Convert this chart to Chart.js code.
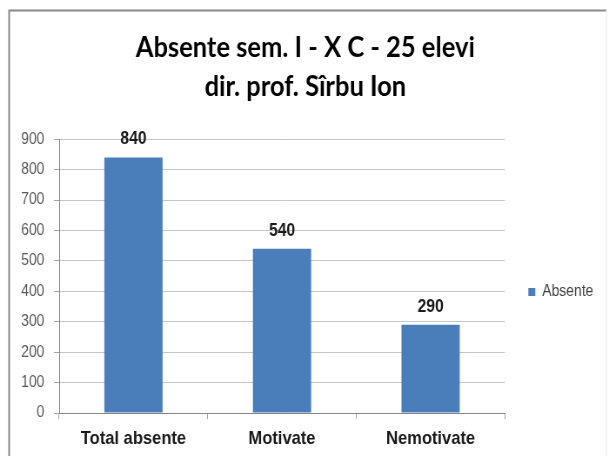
<!DOCTYPE html>
<html>
<head>
<meta charset="utf-8">
<script src="https://cdn.jsdelivr.net/npm/chart.js@4/dist/chart.umd.min.js"></script>
<style>
  html, body { margin: 0; padding: 0; background: #ffffff; }
</style>
</head>
<body>
<canvas id="c" width="700" height="456" style="display:block;width:609px;height:456px"></canvas>
<script>
// ---- data ----
const titleLines = ['Absente sem. I - X C - 25 elevi', 'dir. prof. Sîrbu Ion'];
const categories = ['Total absente', 'Motivate', 'Nemotivate'];
const seriesName = 'Absente';
const absente = [840, 540, 290];
const yMin = 0;
const yMax = 900;
const yStep = 100;

const BAR_COLOR = '#4a7ebb';
const SANS = '"Liberation Sans", Arial, sans-serif';

const framePlugin = {
  id: 'frame',
  beforeDraw(chart) {
    const ctx = chart.ctx;
    ctx.save();
    ctx.fillStyle = '#ffffff';
    ctx.fillRect(0, 0, chart.width, chart.height);
    ctx.strokeStyle = '#8a8a8a';
    ctx.lineWidth = 2;
    ctx.beginPath();
    ctx.moveTo(10.5, chart.height + 2);
    ctx.lineTo(10.5, 10.5);
    ctx.lineTo(697, 10.5);
    ctx.stroke();
    ctx.strokeStyle = '#e6e6e6';
    ctx.lineWidth = 1;
    ctx.beginPath();
    ctx.moveTo(697, 10.5);
    ctx.lineTo(697, chart.height + 2);
    ctx.stroke();
    ctx.restore();
  }
};

const valueLabels = {
  id: 'valueLabels',
  afterDatasetsDraw(chart) {
    const ctx = chart.ctx;
    const meta = chart.getDatasetMeta(0);
    const data = chart.data.datasets[0].data;
    ctx.save();
    ctx.font = 'bold 18px ' + SANS;
    ctx.fillStyle = '#1a1a1a';
    ctx.textAlign = 'center';
    ctx.textBaseline = 'alphabetic';
    meta.data.forEach((bar, i) => {
      ctx.fillText(String(data[i]), bar.x, bar.y - 13);
    });
    ctx.restore();
  }
};

new Chart(document.getElementById('c'), {
  type: 'bar',
  data: {
    labels: categories,
    datasets: [{
      label: seriesName,
      data: absente,
      backgroundColor: BAR_COLOR,
      borderWidth: 0,
      barPercentage: 0.392,
      categoryPercentage: 1.0
    }]
  },
  options: {
    responsive: false,
    devicePixelRatio: 1,
    animation: false,
    layout: { padding: { top: 10, left: 10, right: 8, bottom: 0 } },
    plugins: {
      title: {
        display: true,
        text: titleLines,
        color: '#000000',
        font: { family: 'Lato, "Open Sans", sans-serif', weight: 'bold', size: 29.3, lineHeight: 1.3 },
        padding: { top: 19, bottom: 34 }
      },
      legend: {
        display: true,
        position: 'right',
        align: 'center',
        fullSize: false,
        title: { display: true, text: ' ', font: { size: 20, lineHeight: 1.2 }, padding: 4 },
        labels: {
          color: '#404040',
          font: { family: SANS, size: 16 },
          boxWidth: 8,
          boxHeight: 8,
          padding: 27
        }
      },
      tooltip: { enabled: false }
    },
    scales: {
      x: {
        offset: true,
        grid: {
          display: true,
          offset: true,
          drawOnChartArea: false,
          drawTicks: true,
          tickLength: 6,
          color: '#a6a6a6'
        },
        border: { display: true, color: '#868686', width: 1 },
        ticks: {
          color: '#1a1a1a',
          font: { family: SANS, size: 19, weight: 'bold' },
          padding: 8,
          maxRotation: 0
        },
        afterFit(scale) { scale.height = 43; }
      },
      y: {
        min: yMin,
        max: yMax,
        ticks: {
          stepSize: yStep,
          color: '#595959',
          font: { family: SANS, size: 16 },
          padding: 11
        },
        grid: {
          color: '#c6c6c6',
          lineWidth: 1,
          drawTicks: true,
          tickLength: 6,
          tickColor: '#a6a6a6'
        },
        border: { display: true, color: '#868686', width: 1 },
        afterFit(scale) { scale.width = 58; }
      }
    }
  },
  plugins: [framePlugin, valueLabels]
});
</script>
</body>
</html>
